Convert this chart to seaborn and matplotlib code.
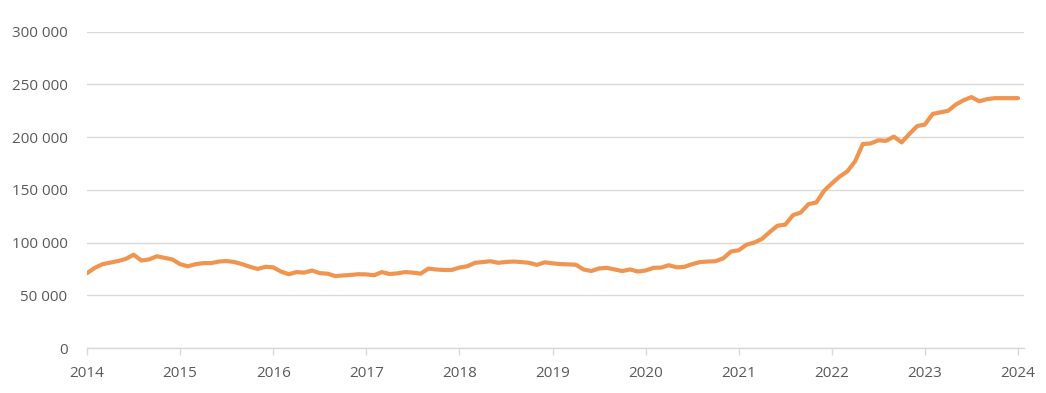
import numpy as np
import pandas as pd
import matplotlib
matplotlib.use("Agg")
import matplotlib.pyplot as plt
from matplotlib.ticker import FuncFormatter
import seaborn as sns

# monthly values, Jan 2014 .. Jan 2024
start_year = 2014
values = [
    71000, 76000, 79500, 81000, 82500, 84500, 88500, 83000, 84000, 87000, 85500, 84000,
    79500, 77500, 79500, 80500, 80500, 82000, 82500, 81500, 79500, 77000, 75000, 77000,
    76500, 72500, 70000, 72000, 71500, 73500, 71000, 70500, 68200, 68800, 69300, 70000,
    69800, 69000, 72000, 70200, 70800, 72000, 71500, 70500, 75300, 74500, 74000, 74000,
    76300, 77500, 80800, 81500, 82300, 80800, 81600, 82000, 81500, 80800, 78800, 81300,
    80300, 79600, 79300, 79000, 74500, 73000, 75500, 76000, 74500, 73000, 74500, 72500,
    73500, 76000, 76300, 78500, 76500, 77000, 79500, 81500, 82000, 82300, 85000, 91500,
    92700, 98000, 100000, 103500, 110000, 116000, 117000, 126000, 128500, 136500, 138000, 149000,
    156000, 162500, 167500, 177000, 193500, 194000, 197000, 196500, 200500, 195000, 203000, 210500,
    212000, 222000, 223500, 225000, 231000, 235000, 238000, 234000, 236000, 237000, 237000, 237000,
    237000,
]
year_ticks = list(range(2014, 2025))
y_ticks = [0, 50000, 100000, 150000, 200000, 250000, 300000]

df = pd.DataFrame({"year": start_year + np.arange(len(values)) / 12, "value": values})

sns.set_style("white")
plt.rcParams["font.family"] = ["Open Sans", "DejaVu Sans"]

fig = plt.figure(figsize=(10.46, 3.93), dpi=100)
ax = fig.add_axes([0.0832, 0.1145, 0.8958, 0.8048])

sns.lineplot(data=df, x="year", y="value", ax=ax, color="#EF9550", linewidth=3.0,
             solid_capstyle="round", solid_joinstyle="round")

ax.set_xlim(2014, 2024.065)
ax.set_ylim(0, 300000)
ax.set_xticks(year_ticks)
ax.set_yticks(y_ticks)
ax.yaxis.set_major_formatter(FuncFormatter(lambda v, p: f"{int(v):,}".replace(",", " ")))
ax.set_xlabel("")
ax.set_ylabel("")

ax.grid(axis="y", color="#D9D9D9", linewidth=1.0)
ax.set_axisbelow(True)
for s in ["top", "right", "left"]:
    ax.spines[s].set_visible(False)
ax.spines["bottom"].set_color("#D9D9D9")
ax.spines["bottom"].set_linewidth(1.0)

ax.tick_params(axis="y", length=0, pad=14, labelsize=11, labelcolor="#595959")
ax.tick_params(axis="x", length=5, width=1, color="#D9D9D9", pad=8,
               labelsize=11, labelcolor="#595959", bottom=True)

fig.savefig("out.png", dpi=100)
